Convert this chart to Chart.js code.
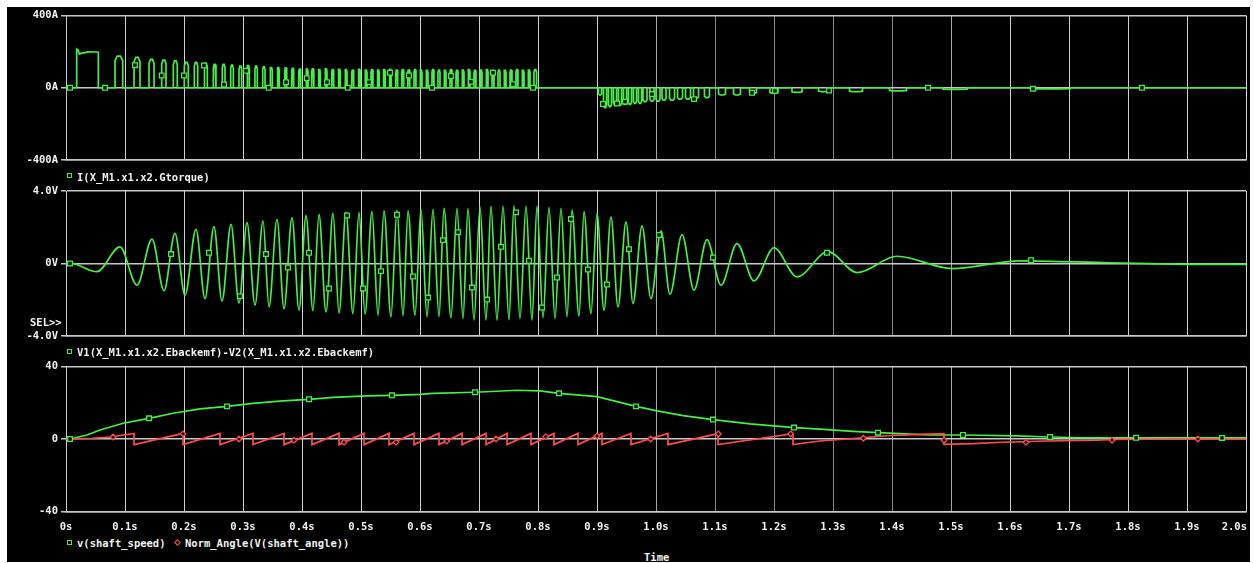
<!DOCTYPE html>
<html><head><meta charset="utf-8">
<script src="https://cdn.jsdelivr.net/npm/chart.js@4.4.1/dist/chart.umd.min.js"></script>
<style>
html,body{margin:0;padding:0;background:#fff;width:1253px;height:563px;overflow:hidden;position:relative;}
#bg{position:absolute;left:7px;top:7px;width:1243px;height:555px;background:#000;}
canvas{position:absolute;left:0;}
.t{position:absolute;font:bold 10.5px "DejaVu Sans Mono",monospace;color:#f2f2f2;line-height:12px;white-space:pre;}
.sq{position:absolute;width:3px;height:3px;border:1px solid #46ee46;}
.dm{position:absolute;width:3px;height:3px;border:1px solid #ff4d4d;transform:rotate(45deg);}
</style></head><body>
<div id="bg"></div>
<canvas id="c1" width="1253" height="175" style="top:0px"></canvas>
<canvas id="c2" width="1253" height="170" style="top:180px"></canvas>
<canvas id="c3" width="1253" height="180" style="top:355px"></canvas>
<div class="sq" style="left:67px;top:173px"></div>
<div class="t" style="left:77px;top:171px">I(X_M1.x1.x2.Gtorque)</div>
<div class="t" style="left:30px;top:316px">SEL&gt;&gt;</div>
<div class="sq" style="left:67px;top:349px"></div>
<div class="t" style="left:77px;top:346px">V1(X_M1.x1.x2.Ebackemf)-V2(X_M1.x1.x2.Ebackemf)</div>
<div class="sq" style="left:67px;top:540px"></div>
<div class="t" style="left:77px;top:537px">v(shaft_speed)</div>
<div class="dm" style="left:175px;top:540px"></div>
<div class="t" style="left:185px;top:537px">Norm_Angle(V(shaft_angle))</div>
<div class="t" style="left:644px;top:551px">Time</div>
<script>
// ---- tick labels ----
const timeTicks = [0,100,200,300,400,500,600,700,800,900,1000,1100,1200,1300,1400,1500,1600,1700,1800,1900,2000];
const timeTickLabels = ['0s','0.1s','0.2s','0.3s','0.4s','0.5s','0.6s','0.7s','0.8s','0.9s','1.0s','1.1s','1.2s','1.3s','1.4s','1.5s','1.6s','1.7s','1.8s','1.9s','2.0s'];
const curTicks = [-400,0,400];
const curTickLabels = ['-400A','0A','400A'];
const emfTicks = [-4,0,4];
const emfTickLabels = ['-4.0V','0V','4.0V'];
const spdTicks = [-40,0,40];
const spdTickLabels = ['-40','0','40'];

// ---- current I(X_M1.x1.x2.Gtorque), time in ms, value in A ----
const pulse1T = [18.1,18.1,20.9,22.6,25.4,37.9,52.0,54.8,54.8];
const pulse1A = [0,214,208,186,190,199,198,196,0];
const curOn = [83.1,115.3,140.7,162.2,181.9,200.5,217.5,233.9,249.7,264.9,279.2,293.2,306.8,320.3,333.4,345.8,358.1,370.7,382.5,394.4,406.8,
  416.4,427.7,439.0,450.3,461.5,472.9,484.2,495.4,506.8,516.9,527.6,537.8,548.0,558.8,569.0,579.2,589.8,600.0,610.2,620.3,630.5,640.7,650.8,661.0,671.2,681.4,691.5,701.7,711.9,722.0,732.2,742.4,752.5,762.7,772.9,783.1,793.2,
  902.5,911.0,919.4,927.9,936.4,944.9,953.3,961.8,970.3,978.0,989.8,1000.0,1010.2,1022.9,1036.5,1050.0,1063.6,1082.2,1106.0,1131.4,1158.5,1193.2,1230.5,1275.5,1328.0,1395.8,1486.5,1633.9];
const curOff = [96.1,125.4,149.2,169.5,188.6,207.3,223.2,239.5,254.2,269.5,283.6,297.8,310.7,324.2,337.3,349.7,361.5,374.1,385.9,397.8,410.2,
  420.0,431.1,442.4,453.7,464.9,476.3,487.6,498.8,510.2,520.3,531.0,541.2,551.4,562.2,572.4,582.6,593.2,603.4,613.6,623.7,633.9,644.1,654.2,664.4,674.6,684.8,694.9,705.1,715.3,725.4,735.6,745.8,755.9,766.1,776.3,786.5,797.5,
  907.7,916.2,924.6,933.1,941.6,950.1,958.5,967.0,975.5,984.8,996.6,1006.8,1017.0,1031.4,1045.0,1058.5,1072.1,1090.6,1117.8,1143.2,1170.3,1206.8,1247.5,1290.8,1350.0,1424.6,1527.1,1701.7];
const curPk = [175,168,157,153,149,140,140,135,129,129,125,120,123,120,116,112,112,110,107,103,103,
  104,100,104,100,102,100,98,102,98,100,98,100,102,98,100,98,100,98,96,100,98,96,100,96,98,100,96,98,100,96,98,96,98,100,96,98,100,
  -40,-110,-105,-96,-96,-92,-92,-87,-87,-77,-74,-74,-68,-68,-63,-63,-59,-55,-40,-40,-31,-31,-26,-22,-22,-17,-9,-6];
const curMkT = [6.8,66.1,116.9,162.2,200.0,233.9,267.8,305.1,343.6,372.9,408.0,442.4,477.5,513.6,549.2,581.4,620.3,652.5,686.4,723.7,757.6,791.5,910.2,933.9,947.5,993.2,1064.4,1162.7,1201.7,1293.2,1461.0,1639.0,1823.7];
const curMkA = [0,0,125,68,68,123,18,94,0,31,53,31,0,31,83,68,0,65,33,83,20,0,-90,-87,-77,-35,-63,-28,-17,-15,0,-6,0];

// ---- back EMF V1-V2, extrema (ms, V) ----
const emfT = [0,6.8,52.5,91.5,120.3,145.8,166.1,184.7,201.7,220.3,235.6,250.8,264.4,279.7,293.2,306.8,320.3,333.9,344.1,357.6,369.5,383.1,394.9,
  406.8,418.6,428.8,440.7,452.5,462.7,474.6,486.4,496.6,506.8,518.6,528.8,539.0,550.8,561.0,571.2,579.7,591.5,601.7,611.9,622.0,632.2,640.7,652.5,
  662.7,672.9,681.4,691.5,701.7,711.9,720.3,730.5,740.7,750.8,759.3,769.5,779.7,789.8,798.3,808.5,818.6,828.8,839.0,849.2,857.6,869.5,878.0,889.8,
  900.0,911.9,923.7,935.6,949.2,961.0,976.3,991.5,1008.5,1023.7,1044.1,1064.4,1086.4,1110.2,1137.3,1166.1,1200.0,1239.0,1291.5,1340.7,1408.5,1501.7,
  1616.9,1769.5,1944.1,2000];
const emfV = [0,0.02,-0.45,0.92,-1.2,1.35,-1.5,1.66,-1.75,1.88,-1.94,2.03,-2.07,2.16,-2.18,2.25,-2.3,2.36,-2.4,2.44,-2.49,2.53,-2.58,
  2.64,-2.6,2.71,-2.67,2.77,-2.73,2.82,-2.77,2.82,-2.8,2.86,-2.86,2.9,-2.95,2.95,-2.9,2.91,-2.86,2.99,-2.95,2.99,-2.95,3.04,-2.99,
  3.04,-3.04,3.04,-3.13,3.13,-3.13,3.17,-3.13,3.17,-3.1,3.19,-3.04,3.17,-3.13,3.17,-2.99,3.1,-3.04,3.04,-2.95,2.95,-2.9,2.86,-2.76,
  2.76,-2.58,2.58,-2.4,2.3,-2.21,2.08,-1.94,1.8,-1.7,1.6,-1.47,1.32,-1.2,1.1,-0.96,0.87,-0.74,0.65,-0.5,0.4,-0.28,
  0.15,0.04,-0.05,-0.05];
const emfMkT = [6.8,178.0,242.4,294.9,339.0,376.3,411.9,445.8,476.3,503.4,533.9,561.0,588.1,613.6,639.0,664.4,688.1,713.6,737.3,762.7,784.7,806.8,832.2,855.9,884.7,916.9,954.2,1005.1,1096.6,1289.8,1635.6];
const emfMkV = [0,0.52,0.59,-1.8,0.52,-0.22,0.59,-1.38,2.65,-1.38,-0.42,2.69,-0.72,-1.88,1.29,1.73,-1.33,-1.99,0.92,2.82,0.15,-2.43,-0.77,2.45,-0.33,-1.16,0.79,1.57,0.33,0.59,0.18];

// ---- shaft speed ----
const spdT = [0,6.8,35.6,57.6,96.6,140.7,181.4,227.1,272.9,316.9,367.8,411.9,452.5,510.2,552.5,600.0,622.0,693.2,764.4,803.4,835.6,900.0,933.9,966.1,1001.7,1045.8,1096.6,1159.3,1233.9,1278.0,1333.9,1376.3,1413.6,1464.4,1520.3,1611.9,1667.8,1723.7,2000];
const spdV = [0,0,2.2,5,8.7,11.4,14.2,16.6,18,19.7,21,21.9,23,23.8,24.1,24.6,25.2,25.8,26.9,26.5,25.2,23.4,20.6,18,15.5,12.9,10.7,8.3,6.3,5.4,4.2,3.5,3.0,2.2,2.2,1.7,1.1,0.7,0.6];
const spdMkT = [6.8,140.7,272.9,411.9,552.5,693.2,835.6,966.1,1096.6,1233.9,1376.3,1520.3,1667.8,1813.6,1959.3];
const spdMkV = [0,11.4,18,21.9,24.1,25.8,25.2,18,10.7,6.3,3.5,2.2,1.1,0.7,0.6];

// ---- Norm_Angle(V(shaft_angle)) ----
const angT = [0,45.8,74.6,115.3,115.3,198.3,198.3,261.0,261.0,316.9,316.9,369.5,369.5,416.9,416.9,462.7,462.7,505.1,505.1,547.5,547.5,589.8,589.8,
  632.2,632.2,671.2,671.2,711.9,711.9,747.5,747.5,788.1,788.1,827.1,827.1,867.8,867.8,908.5,908.5,957.6,957.6,1020.3,1020.3,1105.1,1105.1,1232.2,1232.2,
  1278.0,1350.8,1391.5,1447.5,1488.1,1488.1,1537.3,1588.1,1662.7,1747.5,1774.6,1900,2000];
const angV = [0,0.4,1.1,3.1,-3.1,3.1,-3.1,3.1,-3.1,3.1,-3.1,3.1,-3.1,3.1,-3.1,3.1,-3.1,3.1,-3.1,3.1,-3.1,3.1,-3.1,
  3.1,-3.1,3.1,-3.1,3.1,-3.1,3.1,-3.1,3.1,-3.1,3.1,-3.1,3.1,-3.1,3.1,-3.1,3.1,-3.1,3.1,-3.1,3.0,-3.1,2.9,-3.1,
  -1.1,0.7,1.8,2.6,2.9,-3.0,-2.6,-1.8,-1.1,-0.7,-0.2,0,0];
const angMkT = [79.7,198.3,293.2,386.4,471.2,559.3,645.3,728.8,813.1,900.0,991.0,1105.6,1228.3,1351.4,1488.1,1627.1,1772.9,1918.6];
const angMkV = [1.1,2.8,0,-0.7,-1.8,-1.8,-1.1,0,1.3,1.7,0,2.8,2.8,0.4,-0.7,-1.8,-0.7,0];

// ---- build point tables ----
const zip = (T,V) => T.map((t,i)=>({x:t,y:V[i]}));
const curPts = [{x:0,y:0}];
pulse1T.forEach((t,i)=>curPts.push({x:t,y:pulse1A[i]}));
curOn.forEach((on,i)=>{
  const off = curOff[i], pk = curPk[i], w = off-on;
  curPts.push({x:on,y:0},{x:on,y:pk*0.86},{x:on+w*0.3,y:pk},{x:off-w*0.3,y:pk},{x:off,y:pk*0.86},{x:off,y:0});
});
curPts.push({x:2000,y:0});

const GREEN = '#46ee46', RED = '#ff4d4d', GRID = '#c8c8c8';
const FONT = {family:'"DejaVu Sans Mono", monospace', size:10.5, weight:'bold'};

function xGridColor(c){
  const v = c.tick ? c.tick.value : 0;
  if (v===1000 || v===1500) return '#a8a8a8';
  if (v>=1100 && v<=1400) return '#8a8a8a';
  return '#d2d2d2';
}

function lineDs(pts,color,order,extra){
  return Object.assign({data:pts,borderColor:color,borderWidth:1.7,pointRadius:0,fill:false,tension:0,order:order},extra||{});
}
function mkDs(pts,color,style,r,order){
  return {data:pts,showLine:false,pointStyle:style,pointRadius:r,pointBorderWidth:1.3,pointBorderColor:color,pointBackgroundColor:'#000',borderColor:color,backgroundColor:'#000',order:order};
}

const xLabelPlugin = {
  id:'xlabels',
  afterDraw(chart){
    const {ctx, chartArea, scales:{x}} = chart;
    ctx.save();
    ctx.font = 'bold 10.5px "DejaVu Sans Mono", monospace';
    ctx.fillStyle = '#f2f2f2';
    ctx.textBaseline = 'middle';
    timeTicks.forEach((v,i)=>{
      const lab = timeTickLabels[i];
      const w = ctx.measureText(lab).width;
      let px = x.getPixelForValue(v) - w/2;
      if (px + w > chartArea.right + 1) px = chartArea.right + 1 - w;
      ctx.fillText(lab, px, chartArea.bottom + 16);
    });
    ctx.restore();
  }
};

function mkChart(id, datasets, yMin, yMax, yTicks, yLabels, padTop, padBottom, plugins){
  return new Chart(document.getElementById(id), {
    type:'line',
    data:{datasets},
    options:{
      responsive:false, animation:false, devicePixelRatio:1,
      layout:{padding:{left:0,right:7,top:padTop,bottom:padBottom}},
      plugins:{legend:{display:false}, tooltip:{enabled:false}},
      scales:{
        x:{type:'linear',min:0,max:2000,
          afterBuildTicks(s){ s.ticks = timeTicks.map(v=>({value:v})); },
          ticks:{display:false},
          grid:{color:xGridColor,lineWidth:1,drawTicks:false},
          border:{display:true,color:GRID,width:1.5},
          afterFit(s){ s.height = 0; }},
        y:{type:'linear',min:yMin,max:yMax,
          afterBuildTicks(s){ s.ticks = yTicks.map(v=>({value:v})); },
          ticks:{callback:(v)=>yLabels[yTicks.indexOf(v)],color:'#f2f2f2',font:FONT,padding:3},
          grid:{color:GRID,lineWidth:1.5,tickLength:5,tickColor:GRID,tickWidth:1.5},
          border:{display:true,color:GRID,width:1},
          afterFit(s){ s.width = 66; }}
      }
    },
    plugins: plugins||[]
  });
}

mkChart('c1', [
  mkDs(zip(curMkT,curMkA),GREEN,'rect',3.3,0),
  lineDs(curPts,GREEN,1)
], -400, 400, curTicks, curTickLabels, 15.5, 15);

mkChart('c2', [
  mkDs(zip(emfMkT,emfMkV),GREEN,'rect',3.3,0),
  lineDs(zip(emfT,emfV),GREEN,1,{cubicInterpolationMode:'monotone'})
], -4, 4, emfTicks, emfTickLabels, 11, 14);

mkChart('c3', [
  mkDs(zip(angMkT,angMkV),RED,'rectRot',2.8,0),
  mkDs(zip(spdMkT,spdMkV),GREEN,'rect',3.3,0),
  lineDs(zip(angT,angV),RED,1),
  lineDs(zip(spdT,spdV),GREEN,2)
], -40, 40, spdTicks, spdTickLabels, 11.5, 23.5, [xLabelPlugin]);
</script>
</body></html>
